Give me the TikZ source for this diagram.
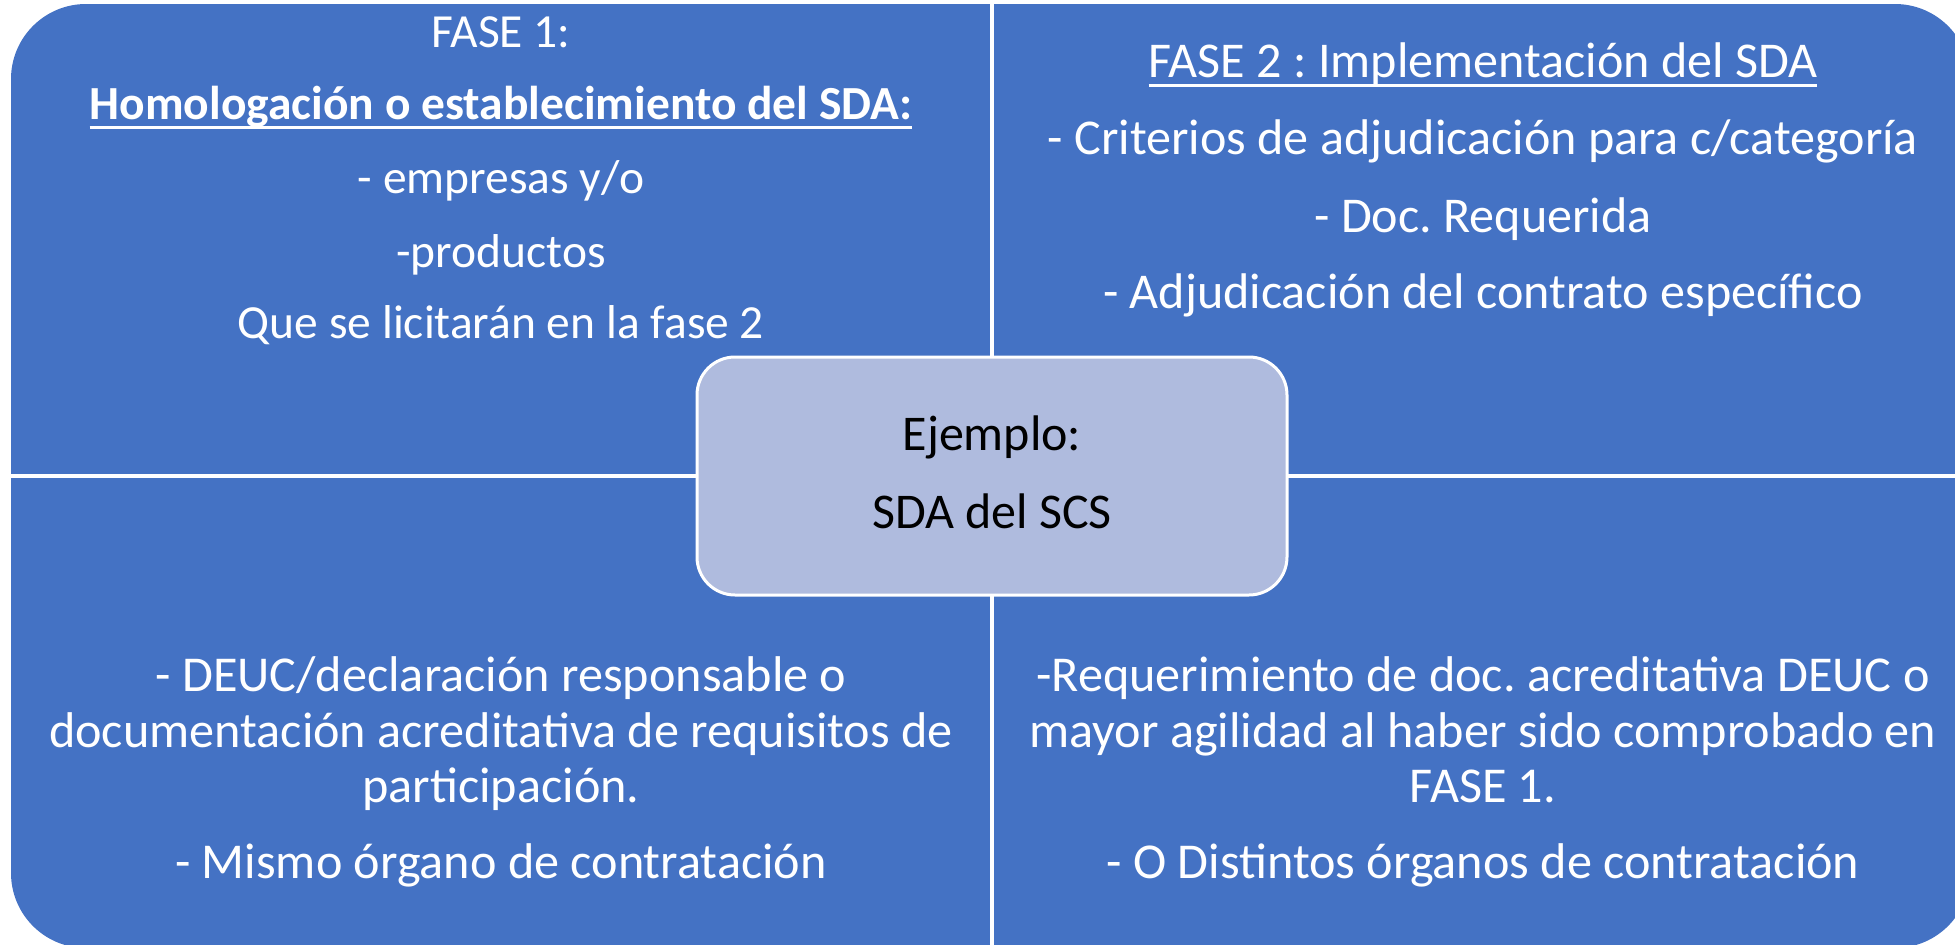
\documentclass[tikz,border=0pt]{standalone}
\usepackage{fontspec}
\setmainfont{Carlito}
\frenchspacing
\definecolor{qblue}{RGB}{68,114,196}
\definecolor{cblue}{RGB}{175,187,222}
\newcommand\myul[1]{\setbox0\hbox{#1}\rlap{\rule[-9.5pt]{\wd0}{3pt}}\box0}
\begin{document}
\begin{tikzpicture}[x=1pt,y=-1pt,
  qtext/.style={anchor=base,text=white,font=\fontsize{47.5}{57}\selectfont,inner sep=0pt},
  trtext/.style={qtext,font=\fontsize{50.1}{60}\selectfont},
  btext/.style={qtext,font=\fontsize{50.2}{60}\selectfont},
  ctext/.style={anchor=base,text=black,font=\fontsize{50}{60}\selectfont,inner sep=0pt},
  divider/.style={white,line width=4pt}]
\useasboundingbox (0,0) rectangle (1955,945);
\clip (0,0) rectangle (1955,945);
\fill[qblue,rounded corners=75pt] (11,4) rectangle (1970,948);
\draw[divider] (992,0) -- (992,950);
\draw[divider,line width=3.5pt] (0,476) -- (1975,476);
\node[draw=white,line width=3pt,fill=cblue,rounded corners=38pt,minimum width=590pt,minimum height=238pt,inner sep=0pt] (centerbox) at (992,476) {};
% center text
\node[ctext] (c1) at (992,450) {Ejemplo:};
\node[ctext] (c2) at (992,528) {SDA del SCS};
% top-left
\node[qtext] (tl1) at (501,47) {FASE 1:};
\node[qtext] (tl2) at (501,119) {\myul{\bfseries Homologación o establecimiento del SDA:}};
\node[qtext] (tl3) at (501,193) {- empresas y/o};
\node[qtext] (tl4) at (501,267) {-productos};
\node[qtext] (tl5) at (501,338) {Que se licitarán en la fase 2};
% top-right
\node[trtext] (tr1) at (1483,77) {\myul{FASE 2 : Implementación del SDA}};
\node[trtext] (tr2) at (1483,154) {- Criterios de adjudicación para c/categoría};
\node[trtext] (tr3) at (1483,232) {- Doc. Requerida};
\node[trtext] (tr4) at (1483,308) {- Adjudicación del contrato específico};
% bottom-left
\node[btext] (bl1) at (501,691) {- DEUC/declaración responsable o};
\node[btext] (bl2) at (501,747) {documentación acreditativa de requisitos de};
\node[btext] (bl3) at (501,802) {participación.};
\node[btext] (bl4) at (501,878) {- Mismo órgano de contratación};
% bottom-right
\node[btext] (br1) at (1483,691) {-Requerimiento de doc. acreditativa DEUC o};
\node[btext] (br2) at (1483,747) {mayor agilidad al haber sido comprobado en};
\node[btext] (br3) at (1483,802) {FASE 1.};
\node[btext] (br4) at (1483,878) {- O Distintos órganos de contratación};
\end{tikzpicture}
\end{document}
